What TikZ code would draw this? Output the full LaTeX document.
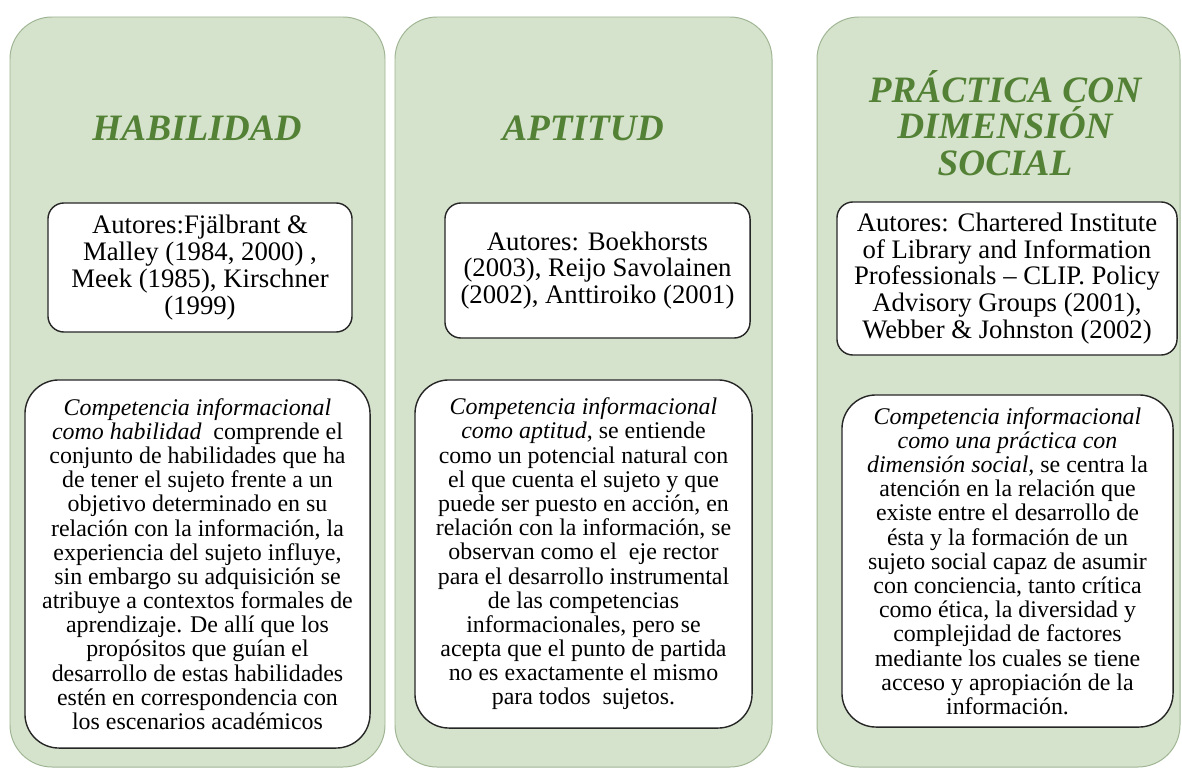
\documentclass[tikz,border=0pt]{standalone}
\usepackage{fontspec}
\setmainfont{Liberation Serif}
\usepackage{tikz}

\definecolor{colfill}{HTML}{D6E3CC}
\definecolor{coledge}{HTML}{9FB594}
\definecolor{titlegreen}{HTML}{538135}

\tikzset{
  column/.style={draw=coledge,fill=colfill,line width=0.7pt,rounded corners=1.05cm},
  titletext/.style={text=titlegreen,align=center,inner sep=0pt,
    font=\fontsize{26.5}{26}\selectfont\bfseries\itshape},
  authorbox/.style={draw=black!85,fill=white,line width=1pt,rounded corners=0.4cm,
    align=center,inner sep=0pt,font=\fontsize{19}{19}\selectfont},
  descbox/.style={draw=black!85,fill=white,line width=1pt,rounded corners=0.85cm,
    align=center,inner sep=0pt,font=\fontsize{17}{17.2}\selectfont}
}

\begin{document}
\begin{tikzpicture}[x=0.025cm,y=-0.025cm]
\useasboundingbox (0,0) rectangle (1182,768);

% green columns
\foreach \xa/\xb in {10/385, 395/772, 817/1180} {
    \draw[column] (\xa,17) rectangle (\xb,767);
}

% titles
\node[titletext] (habtitle) at (197,128) {HABILIDAD};
\node[titletext] (apttitle) at (583,128) {APTITUD};
\node[titletext] (practitle) at (1005,123) {PRÁCTICA CON\\DIMENSIÓN\\SOCIAL};

% authors
\node[authorbox,minimum width=7.6cm,minimum height=3.225cm] (habaut) at (200,267.5)
  {Autores:Fjälbrant \&\\Malley (1984, 2000) ,\\Meek (1985), Kirschner\\(1999)};
\node[authorbox,minimum width=7.625cm,minimum height=3.375cm] (aptaut) at (597.5,270.5)
  {Autores: Boekhorsts\\(2003), Reijo Savolainen\\(2002), Anttiroiko (2001)};
\node[authorbox,minimum width=8.5cm,minimum height=3.825cm] (pracaut) at (1007,278.5)
  {Autores: Chartered Institute\\of Library and Information\\Professionals -- CLIP. Policy\\Advisory Groups (2001),\\Webber \& Johnston (2002)};

% descriptions
\node[descbox,minimum width=8.625cm,minimum height=9.2cm] (habdesc) at (197.5,564)
  {\textit{Competencia informacional}\\\textit{como habilidad}~ comprende el\\conjunto de habilidades que ha\\de tener el sujeto frente a un\\objetivo determinado en su\\relación con la información, la\\experiencia del sujeto influye,\\sin embargo su adquisición se\\atribuye a contextos formales de\\aprendizaje. De allí que los\\propósitos que guían el\\desarrollo de estas habilidades\\estén en correspondencia con\\los escenarios académicos};
\node[descbox,minimum width=8.425cm,minimum height=8.7cm] (aptdesc) at (583.5,554)
  {\textit{Competencia informacional}\\\textit{como aptitud}, se entiende\\como un potencial natural con\\el que cuenta el sujeto y que\\puede ser puesto en acción, en\\relación con la información, se\\observan como el~ eje rector\\para el desarrollo instrumental\\de las competencias\\informacionales, pero se\\acepta que el punto de partida\\no es exactamente el mismo\\para todos~ sujetos.};
\node[descbox,minimum width=8.275cm,minimum height=8.3cm] (pracdesc) at (1007.5,561)
  {\textit{Competencia informacional}\\\textit{como una práctica con}\\\textit{dimensión social,} se centra la\\atención en la relación que\\existe entre el desarrollo de\\ésta y la formación de un\\sujeto social capaz de asumir\\con conciencia, tanto crítica\\como ética, la diversidad y\\complejidad de factores\\mediante los cuales se tiene\\acceso y apropiación de la\\información.};
\end{tikzpicture}
\end{document}
